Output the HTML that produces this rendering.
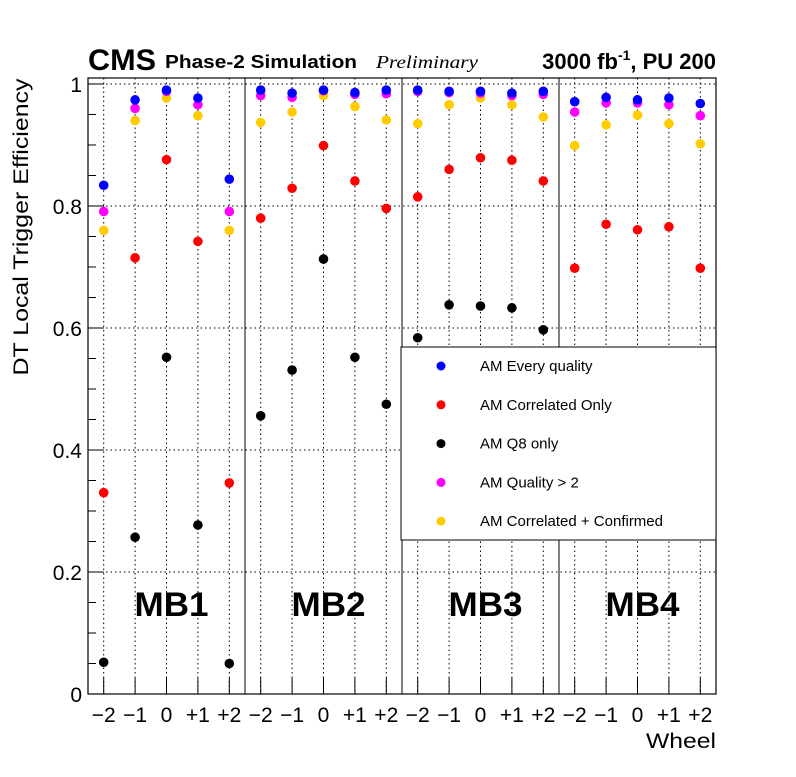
<!DOCTYPE html>
<html><head><meta charset="utf-8"><style>
body{margin:0;background:#fff;}
svg text{font-family:"Liberation Sans",sans-serif;}
</style></head><body>
<svg width="796" height="772" xmlns="http://www.w3.org/2000/svg" id="c">
<text x="88" y="70" font-size="30" font-weight="bold" textLength="68" lengthAdjust="spacingAndGlyphs">CMS</text>
<text x="165" y="68" font-size="18" font-weight="bold" textLength="192" lengthAdjust="spacingAndGlyphs">Phase-2 Simulation</text>
<text x="376" y="68" font-size="18" font-style="italic" style="font-family:'Liberation Serif',serif" textLength="102" lengthAdjust="spacingAndGlyphs">Preliminary</text>
<text x="716" y="69" font-size="22" font-weight="bold" text-anchor="end">3000 fb<tspan font-size="14" dy="-9">-1</tspan><tspan dy="9">, PU 200</tspan></text>
<text transform="translate(28,227) rotate(-90)" font-size="21" text-anchor="middle" textLength="297" lengthAdjust="spacingAndGlyphs">DT Local Trigger Efficiency</text>
<text x="716" y="748" font-size="21" text-anchor="end" textLength="70" lengthAdjust="spacingAndGlyphs">Wheel</text>
<g id="grid"></g><g id="axes"></g><g id="marks"></g><g id="legend"></g>
</svg>
<script>
const stations=["MB1","MB2","MB3","MB4"];
const wheels=["\u22122","\u22121","0","+1","+2"];
const yTicks=[0,0.2,0.4,0.6,0.8,1];
const yTickLabels=["0","0.2","0.4","0.6","0.8","1"];
const everyQuality=[0.834,0.974,0.990,0.977,0.844, 0.990,0.985,0.990,0.986,0.990, 0.990,0.988,0.988,0.985,0.988, 0.971,0.978,0.974,0.977,0.968];
const correlatedOnly=[0.330,0.715,0.876,0.742,0.346, 0.780,0.829,0.899,0.841,0.796, 0.815,0.860,0.879,0.875,0.841, 0.698,0.770,0.761,0.766,0.698];
const q8Only=[0.052,0.257,0.552,0.277,0.050, 0.456,0.531,0.713,0.552,0.475, 0.584,0.638,0.636,0.633,0.597, null,null,null,null,null];
const qualityGt2=[0.791,0.960,0.988,0.966,0.791, 0.981,0.978,0.989,0.983,0.984, 0.988,0.986,0.985,0.981,0.983, 0.954,0.969,0.969,0.966,0.948];
const corrConfirmed=[0.760,0.940,0.977,0.948,0.760, 0.937,0.954,0.981,0.963,0.941, 0.935,0.966,0.977,0.966,0.946, 0.899,0.933,0.949,0.935,0.902];
const seriesNames=["AM Every quality","AM Correlated Only","AM Q8 only","AM Quality > 2","AM Correlated + Confirmed"];
const seriesColors=["#0000ff","#ff0000","#000000","#ff00ff","#ffcc00"];
const seriesData=[everyQuality,correlatedOnly,q8Only,qualityGt2,corrConfirmed];
const drawOrder=[4,3,1,2,0];
const L=88,R=716,T=78,B=694,YMAX=1.0098;
const NS="http://www.w3.org/2000/svg";
const y=v=>B-(B-T)*v/YMAX;
const nb=stations.length*wheels.length;
const x=i=>L+(i+0.5)*(R-L)/nb;
function mk(t,a,p){const e=document.createElementNS(NS,t);for(const k in a)e.setAttribute(k,a[k]);p.appendChild(e);return e;}
const grid=document.getElementById('grid'),axes=document.getElementById('axes'),marks=document.getElementById('marks'),leg=document.getElementById('legend');
yTicks.forEach((v,i)=>{
 if(v>0){const g=mk('line',{x1:L,x2:R,y1:y(v),y2:y(v),stroke:'#000','stroke-dasharray':'1.5,3','stroke-width':1},grid);
 }
 const t=mk('line',{x1:L,x2:L+16,y1:y(v),y2:y(v),stroke:'#000'},axes);
 
 const lb=mk('text',{x:L-6,y:y(v)+8,'font-size':21,'text-anchor':'end'},axes);lb.textContent=yTickLabels[i];
 
});
for(let v=0.05;v<YMAX;v+=0.05){const t=mk('line',{x1:L,x2:L+8,y1:y(v),y2:y(v),stroke:'#000'},axes);}
for(let i=0;i<nb;i++){
 const g=mk('line',{x1:x(i),x2:x(i),y1:T,y2:B,stroke:'#000','stroke-dasharray':'1.5,3'},grid);
 
 const t=mk('line',{x1:x(i),x2:x(i),y1:B,y2:B-16,stroke:'#000'},axes);
 
 const lab=wheels[i%5];
 const lb=mk('text',{x:x(i),y:B+28,'font-size':21,'text-anchor':'middle'},axes);lb.textContent=lab;
 if(lab.length>1){lb.setAttribute('textLength','24');lb.setAttribute('lengthAdjust','spacingAndGlyphs');}
 
}
stations.forEach((s,k)=>{
 const x0=L+k*(R-L)/stations.length;
 if(k>0){const d=mk('line',{x1:x0,x2:x0,y1:T,y2:B,stroke:'#000'},axes);}
 const t=mk('text',{x:x0+(R-L)/8+5,y:616,'font-size':34,'font-weight':'bold','text-anchor':'middle',textLength:74,lengthAdjust:'spacingAndGlyphs'},axes);t.textContent=s;
 
});
const fr=mk('rect',{x:L,y:T,width:R-L,height:B-T,fill:'none',stroke:'#000','stroke-width':1.2},axes);

drawOrder.forEach(si=>{seriesData[si].forEach((v,i)=>{if(v==null)return;
 const c=mk('circle',{cx:x(i),cy:y(v),r:4.8,fill:seriesColors[si]},marks);
 });});
const lr=mk('rect',{x:401,y:347,width:315,height:193,fill:'#fff',stroke:'#000'},leg);

seriesNames.forEach((n,i)=>{const yy=366+i*38.8;
 const c=mk('circle',{cx:441,cy:yy,r:4.5,fill:seriesColors[i]},leg);
 
 const t=mk('text',{x:480,y:yy+5,'font-size':15},leg);t.textContent=n;
 });
</script>
</body></html>
